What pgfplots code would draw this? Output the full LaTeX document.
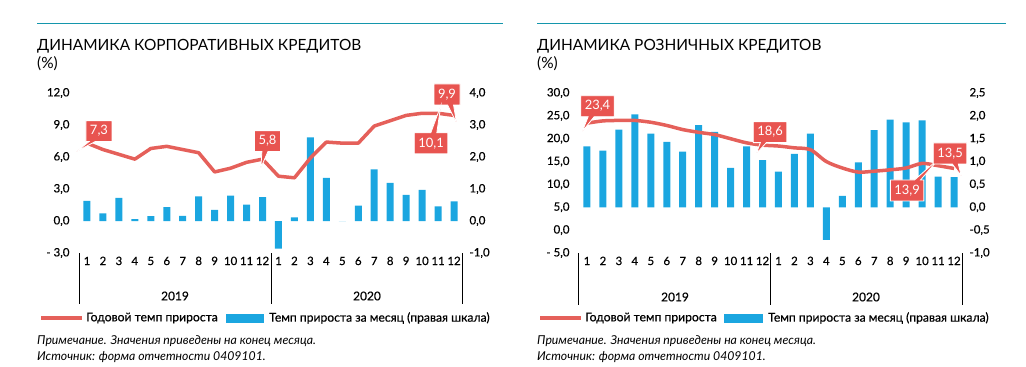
\documentclass[border=0pt]{standalone}
\usepackage{fontspec}
\setmainfont{Lato}
\newfontfamily\legfont{Lato}[FakeBold=0.4]
\usepackage{pgfplots}
\usepackage{pgfplotstable}
\pgfplotsset{compat=1.18}
\usetikzlibrary{shapes.callouts}
\definecolor{barblue}{RGB}{27,166,224}
\definecolor{linered}{RGB}{229,96,90}
\definecolor{callred}{RGB}{232,84,80}
\definecolor{topline}{RGB}{20,150,172}

\pgfplotstableread{
m bar line
1 0.63 7.3
2 0.24 6.7
3 0.72 6.25
4 0.06 5.8
5 0.15 6.8
6 0.43 7.0
7 0.16 6.7
8 0.77 6.4
9 0.35 4.6
10 0.79 4.95
11 0.51 5.5
12 0.75 5.8
13 -0.86 4.2
14 0.11 4.05
15 2.61 5.9
16 1.35 7.4
17 0.0 7.3
18 0.48 7.3
19 1.61 8.9
20 1.19 9.4
21 0.82 9.9
22 0.97 10.1
23 0.46 10.1
24 0.61 9.9
}\corp

\pgfplotstableread{
m bar line
1 1.33 23.4
2 1.24 23.9
3 1.70 24.0
4 2.03 24.0
5 1.61 23.6
6 1.43 22.9
7 1.22 22.0
8 1.80 21.4
9 1.65 20.9
10 0.86 20.0
11 1.33 19.1
12 1.03 18.6
13 0.78 18.4
14 1.17 18.0
15 1.61 17.6
16 -0.71 15.0
17 0.25 13.6
18 0.98 12.7
19 1.69 12.9
20 1.92 13.2
21 1.86 13.6
22 1.90 14.6
23 0.67 14.1
24 0.66 13.5
}\retail

\pgfplotsset{
  basech/.style={scale only axis, width=383bp, height=160bp, xmin=0.5, xmax=24.5,
    anchor=south west, axis line style={draw=none}, tick style={draw=none},
    major tick length=0pt, clip=false,
    ticklabel style={font=\legfont\fontsize{11.5}{13}\selectfont}},
  barax/.style={basech, hide x axis, yticklabel pos=right,
    yticklabel style={anchor=west, xshift=4bp}},
  lineax/.style={basech, xtick={1,...,24},
    xticklabels={1,2,3,4,5,6,7,8,9,10,11,12,1,2,3,4,5,6,7,8,9,10,11,12},
    xticklabel style={anchor=base, yshift=-12bp},
    yticklabel style={anchor=east, xshift=-6bp}},
}
\tikzset{
  callbox/.style={rectangle callout, fill=callred, draw=white, line width=0.8bp,
    text=white, font=\fontsize{13}{15}\selectfont, inner sep=4bp,
    minimum height=21bp, callout pointer width=6bp},
}

\begin{document}
\begin{tikzpicture}[x=1bp,y=-1bp]
\path[use as bounding box] (0,0) rectangle (1026,366);

% ================= LEFT CHART =================
\draw[topline, line width=1.2bp] (37,23.5) -- (503,23.5);
\node[anchor=base west, inner sep=0, font=\fontsize{15.5}{18}\selectfont] at (37,50) {ДИНАМИКА КОРПОРАТИВНЫХ КРЕДИТОВ};
\node[anchor=base west, inner sep=0, font=\fontsize{15.5}{18}\selectfont] at (37,68) {(\%)};

\begin{axis}[barax, at={(79bp,-253bp)}, ymin=-1, ymax=4,
  ytick={-1,0,1,2,3,4}, yticklabels={{-1,0},{0,0},{1,0},{2,0},{3,0},{4,0}}]
\addplot[ybar, bar width=7bp, fill=barblue, draw=none] table[x=m,y=bar]{\corp};
\end{axis}
\begin{axis}[lineax, at={(79bp,-253bp)}, ymin=-3, ymax=12,
  ytick={-3,0,3,6,9,12}, yticklabels={{- 3,0},{0,0},{3,0},{6,0},{9,0},{12,0}}]
\addplot[linered, line width=3.5bp, line join=round] table[x=m,y=line]{\corp};
\node[callbox, xshift=12bp, yshift=12bp, callout relative pointer={(-11bp,-10bp)}] at (axis cs:1,7.3) {7,3};
\node[callbox, xshift=5bp, yshift=18bp, callout relative pointer={(-4bp,-16bp)}] at (axis cs:12,5.8) {5,8};
\node[callbox, xshift=-7bp, yshift=21bp, callout relative pointer={(6bp,-18bp)}] at (axis cs:24,9.9) {9,9};
\node[callbox, xshift=-7bp, yshift=-30bp, callout relative pointer={(7bp,27bp)}] at (axis cs:23,10.1) {10,1};
\end{axis}

\foreach \xx in {79,271,462} \draw[black, line width=0.8bp] (\xx,253) -- (\xx,304);
\node[font=\legfont\fontsize{12}{14}\selectfont] at (175,296) {2019};
\node[font=\legfont\fontsize{12}{14}\selectfont] at (367,296) {2020};

\draw[linered, line width=4bp] (41,318) -- (82,318);
\node[anchor=west, inner sep=0, font=\legfont\fontsize{12.2}{14}\selectfont] at (86,318) {Годовой темп прироста};
\fill[barblue] (226,313.5) rectangle (264,322.5);
\node[anchor=west, inner sep=0, font=\legfont\fontsize{12.2}{14}\selectfont] at (269,318) {Темп прироста за месяц (правая шкала)};
\node[anchor=base west, inner sep=0, font=\fontsize{12.3}{14}\selectfont\itshape] at (37,344) {Примечание. Значения приведены на конец месяца.};
\node[anchor=base west, inner sep=0, font=\fontsize{12.3}{14}\selectfont\itshape] at (37,360) {Источник: форма отчетности 0409101.};

% ================= RIGHT CHART =================
\draw[topline, line width=1.2bp] (537,23.5) -- (1006,23.5);
\node[anchor=base west, inner sep=0, font=\fontsize{15.5}{18}\selectfont] at (537,50) {ДИНАМИКА РОЗНИЧНЫХ КРЕДИТОВ};
\node[anchor=base west, inner sep=0, font=\fontsize{15.5}{18}\selectfont] at (537,68) {(\%)};

\begin{axis}[barax, at={(579bp,-253bp)}, ymin=-1, ymax=2.5,
  ytick={-1,-0.5,0,0.5,1,1.5,2,2.5},
  yticklabels={{-1,0},{-0,5},{0,0},{0,5},{1,0},{1,5},{2,0},{2,5}}]
\addplot[ybar, bar width=7bp, fill=barblue, draw=none] table[x=m,y=bar]{\retail};
\end{axis}
\begin{axis}[lineax, at={(579bp,-253bp)}, ymin=-5, ymax=30,
  ytick={-5,0,5,10,15,20,25,30},
  yticklabels={{- 5,0},{0,0},{5,0},{10,0},{15,0},{20,0},{25,0},{30,0}}]
\addplot[linered, line width=3.5bp, smooth] table[x=m,y=line]{\retail};
\node[callbox, xshift=10.5bp, yshift=17bp, callout relative pointer={(-9bp,-15bp)}] at (axis cs:1,23.4) {23,4};
\node[callbox, xshift=7.5bp, yshift=13bp, callout relative pointer={(-7bp,-11bp)}] at (axis cs:12,18.6) {18,6};
\node[callbox, xshift=-15bp, yshift=-27bp, callout relative pointer={(22bp,22bp)}] at (axis cs:22,14.6) {13,9};
\node[callbox, xshift=-4bp, yshift=15bp, callout relative pointer={(6bp,-12bp)}] at (axis cs:24,13.5) {13,5};
\end{axis}

\foreach \xx in {578,770,962} \draw[black, line width=0.8bp] (\xx,253) -- (\xx,305);
\node[font=\legfont\fontsize{12}{14}\selectfont] at (675,297) {2019};
\node[font=\legfont\fontsize{12}{14}\selectfont] at (866,297) {2020};

\draw[linered, line width=4bp] (540,318) -- (581,318);
\node[anchor=west, inner sep=0, font=\legfont\fontsize{12.2}{14}\selectfont] at (585,318) {Годовой темп прироста};
\fill[barblue] (724,313.5) rectangle (763,322.5);
\node[anchor=west, inner sep=0, font=\legfont\fontsize{12.2}{14}\selectfont] at (768,318) {Темп прироста за месяц (правая шкала)};
\node[anchor=base west, inner sep=0, font=\fontsize{12.3}{14}\selectfont\itshape] at (537,344) {Примечание. Значения приведены на конец месяца.};
\node[anchor=base west, inner sep=0, font=\fontsize{12.3}{14}\selectfont\itshape] at (537,360) {Источник: форма отчетности 0409101.};
\end{tikzpicture}
\end{document}
